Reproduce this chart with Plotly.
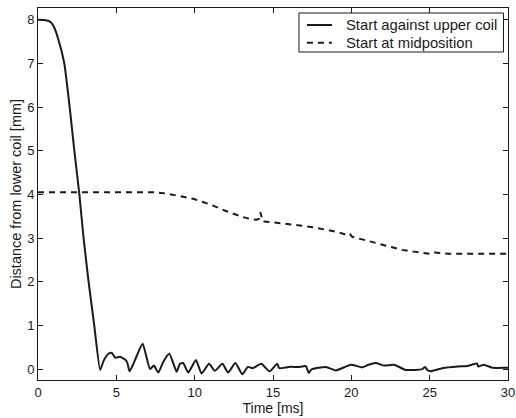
import plotly.graph_objects as go

# Series 1: start against upper coil
t_upper = [0, 0.5, 0.8, 1.0, 1.3, 1.68, 2.02, 2.32, 2.64, 2.91, 3.23, 3.59, 3.97, 4.2, 4.5,
           4.71, 4.93, 5.24, 5.45, 5.56, 5.7, 5.84, 6.09, 6.3, 6.68, 7.15, 7.4, 7.68, 8.0, 8.38,
           8.85, 9.06, 9.27, 9.59, 10.08, 10.44, 10.92, 11.28, 11.77, 12.13, 12.6, 13.04, 13.4, 13.7, 14.25,
           14.78, 15.27, 15.4, 16.0, 16.7, 17.1, 17.28, 17.45, 18.38, 19.02, 19.97, 20.7, 21.1, 21.56, 22.1,
           22.73, 23.47, 24.53, 24.7, 24.85, 25.06, 25.8, 26.8, 27.4, 28.02, 28.1, 28.45, 29.0, 29.9, 30]
d_upper = [8.0, 7.99, 7.95, 7.85, 7.55, 7.0, 6.0, 5.0, 4.0, 3.0, 2.0, 1.0, -0.02, 0.2, 0.35,
           0.37, 0.26, 0.28, 0.24, 0.22, 0.15, -0.05, 0.12, 0.3, 0.58, 0.0, 0.08, -0.08, 0.17, 0.35,
           -0.06, 0.12, 0.14, -0.08, 0.21, -0.1, 0.12, -0.04, 0.12, -0.08, 0.14, -0.12, 0.05, 0.02, 0.12,
           -0.05, 0.12, 0.02, 0.05, 0.05, 0.07, -0.09, -0.01, 0.05, -0.03, 0.1, 0.04, 0.1, 0.14, 0.08,
           0.1, -0.02, 0.0, 0.05, -0.02, -0.05, 0.02, 0.06, 0.07, 0.13, 0.06, 0.1, 0.03, 0.03, 0.03]

# Series 2: start at midposition
t_mid = [0, 3, 6, 7.5, 8.2, 9.0, 9.9, 11.0, 12.0, 13.0,
         13.62, 13.96, 14.1, 14.19, 14.3, 14.36, 15.0, 15.84, 16.7, 17.53,
         18.17, 19.12, 19.87, 19.95, 20.05, 20.7, 21.56, 22.4, 23.26, 24.0,
         24.74, 25.0, 25.3, 26.2, 28.0, 30]
d_mid = [4.05, 4.05, 4.05, 4.05, 4.02, 3.97, 3.90, 3.77, 3.62, 3.49,
         3.43, 3.42, 3.44, 3.59, 3.42, 3.38, 3.36, 3.33, 3.29, 3.25,
         3.21, 3.14, 3.05, 3.08, 3.03, 2.97, 2.89, 2.81, 2.73, 2.69,
         2.66, 2.64, 2.67, 2.64, 2.64, 2.64]

series_names = ["Start against upper coil", "Start at midposition"]
x_ticks = [0, 5, 10, 15, 20, 25, 30]
y_ticks = [0, 1, 2, 3, 4, 5, 6, 7, 8]

FONT = "Liberation Sans, Arial, sans-serif"
INK = "#1a1a1a"
DASH = "6px,5px"
styles = [dict(color=INK, width=2), dict(color=INK, width=2, dash=DASH)]

fig = go.Figure()
fig.add_trace(go.Scatter(x=t_upper, y=d_upper, mode="lines", name=series_names[0],
                         line=dict(**styles[0], shape="spline", smoothing=0.5),
                         showlegend=False))
fig.add_trace(go.Scatter(x=t_mid, y=d_mid, mode="lines", name=series_names[1],
                         line=styles[1], showlegend=False))

axis_common = dict(showgrid=False, zeroline=False, showline=True, linecolor=INK,
                   linewidth=1, mirror="allticks", ticks="inside", ticklen=5,
                   tickcolor=INK, tickwidth=1, automargin=False,
                   tickfont=dict(family=FONT, size=13, color=INK))

fig.update_xaxes(range=[0, 30], tickvals=x_ticks,
                 title=dict(text="Time [ms]", standoff=0,
                            font=dict(family=FONT, size=14, color=INK)),
                 **axis_common)
fig.update_yaxes(range=[-0.25, 8.27], tickvals=y_ticks,
                 title=dict(text="Distance from lower coil [mm]", standoff=2,
                            font=dict(family=FONT, size=14.5, color=INK)),
                 **axis_common)

# Boxed legend (MATLAB style), placed in plot-area (paper) coordinates
box_x0, box_x1, box_y0, box_y1 = 0.5552, 0.9904, 0.8817, 0.9866
row_y = [0.9543, 0.9067]
sample_x0, sample_x1, text_x = 0.5722, 0.6253, 0.6507

fig.add_shape(type="rect", xref="paper", yref="paper",
              x0=box_x0, x1=box_x1, y0=box_y0, y1=box_y1,
              line=dict(color=INK, width=1), fillcolor="white", layer="above")
for name, st, yy in zip(series_names, styles, row_y):
    fig.add_shape(type="line", xref="paper", yref="paper",
                  x0=sample_x0, x1=sample_x1, y0=yy, y1=yy,
                  line=st, layer="above")
    fig.add_annotation(x=text_x, y=yy, xref="paper", yref="paper",
                       xanchor="left", yanchor="middle", showarrow=False,
                       text=name, font=dict(family=FONT, size=14.8, color=INK))

fig.update_layout(
    width=516, height=418,
    margin=dict(l=37.5, r=7.5, t=8, b=38),
    paper_bgcolor="white", plot_bgcolor="white",
    showlegend=False,
)

fig.write_html("out.html", config={"displayModeBar": False},
               post_script="document.body.style.margin='0';document.body.style.overflow='hidden';")
